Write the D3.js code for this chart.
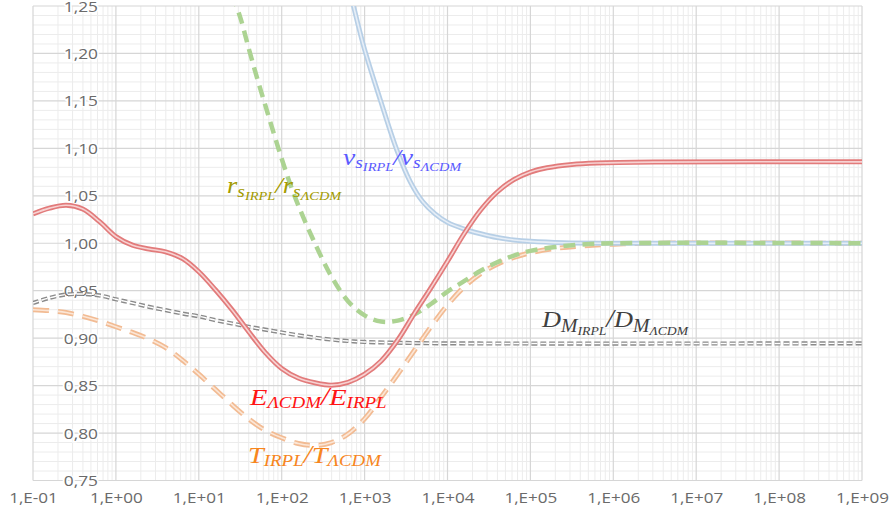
<!DOCTYPE html>
<html>
<head>
<meta charset="utf-8">
<script src="https://cdn.jsdelivr.net/npm/d3@7/dist/d3.min.js"></script>
<style>
  html, body { margin: 0; padding: 0; background: #fff; }
  svg { display: block; }
</style>
</head>
<body>
<svg id="chart" width="895" height="510"></svg>
<script>
// Abscissae are stored as exponents (log10 of the value); ordinates are ratios.
const xTickValues = [1e-1, 1e0, 1e1, 1e2, 1e3, 1e4, 1e5, 1e6, 1e7, 1e8, 1e9];
const xTickLabels = ["1,E-01", "1,E+00", "1,E+01", "1,E+02", "1,E+03", "1,E+04",
                     "1,E+05", "1,E+06", "1,E+07", "1,E+08", "1,E+09"];
const yTickValues = [0.75, 0.80, 0.85, 0.90, 0.95, 1.00, 1.05, 1.10, 1.15, 1.20, 1.25];
const yTickLabels = ["0,75", "0,80", "0,85", "0,90", "0,95", "1,00", "1,05", "1,10", "1,15", "1,20", "1,25"];

// E_LCDM / E_IRPL
const eExp   = [-1.0, -0.8, -0.6, -0.4, -0.2, 0.0, 0.2, 0.4, 0.6, 0.8, 1.0, 1.2, 1.4, 1.6, 1.8, 2.0, 2.2, 2.4, 2.6, 2.8, 3.0, 3.2, 3.4, 3.6, 3.8, 4.0, 4.2, 4.4, 4.6, 4.8, 5.0, 5.2, 5.5, 5.8, 6.5, 9.0];
const eRatio = [1.031, 1.037, 1.040, 1.036, 1.023, 1.007, 0.998, 0.994, 0.991, 0.984, 0.970, 0.951, 0.930, 0.907, 0.885, 0.868, 0.858, 0.853, 0.8505, 0.8535, 0.862, 0.876, 0.898, 0.926, 0.953, 0.981, 1.010, 1.035, 1.054, 1.067, 1.075, 1.0795, 1.083, 1.0845, 1.0855, 1.0858];

// T_IRPL / T_LCDM
const tExp   = [-1.0, -0.8, -0.6, -0.4, -0.2, 0.0, 0.2, 0.4, 0.6, 0.8, 1.0, 1.2, 1.4, 1.6, 1.8, 2.0, 2.2, 2.4, 2.6, 2.8, 3.0, 3.2, 3.4, 3.6, 3.8, 4.0, 4.2, 4.4, 4.6, 4.8, 5.0, 5.3, 5.6, 6.0, 6.5, 9.0];
const tRatio = [0.930, 0.929, 0.927, 0.923, 0.918, 0.912, 0.906, 0.899, 0.890, 0.877, 0.862, 0.846, 0.830, 0.815, 0.803, 0.795, 0.789, 0.787, 0.790, 0.799, 0.815, 0.838, 0.862, 0.887, 0.912, 0.935, 0.954, 0.968, 0.978, 0.985, 0.990, 0.9945, 0.997, 0.999, 1.000, 1.000];

// r_s IRPL / r_s LCDM
const rExp   = [1.4, 1.5, 1.6, 1.7, 1.8, 1.9, 2.0, 2.1, 2.2, 2.4, 2.6, 2.8, 3.0, 3.2, 3.4, 3.6, 3.8, 4.0, 4.2, 4.4, 4.6, 4.8, 5.0, 5.3, 5.6, 6.0, 9.0];
const rRatio = [1.262, 1.238, 1.206, 1.175, 1.146, 1.117, 1.089, 1.063, 1.040, 1.000, 0.965, 0.939, 0.924, 0.9175, 0.9185, 0.925, 0.936, 0.949, 0.960, 0.971, 0.980, 0.987, 0.992, 0.996, 0.9985, 1.000, 1.000];

// v_s IRPL / v_s LCDM
const vExp   = [2.8, 2.88, 3.0, 3.19, 3.39, 3.55, 3.7, 3.85, 4.0, 4.2, 4.4, 4.6, 4.8, 5.0, 5.4, 6.0, 9.0];
const vRatio = [1.275, 1.245, 1.204, 1.151, 1.098, 1.065, 1.044, 1.031, 1.022, 1.015, 1.010, 1.006, 1.0035, 1.002, 1.0005, 1.000, 1.000];

// D_M IRPL / D_M LCDM
const dExp   = [-1.0, -0.8, -0.6, -0.4, -0.2, 0.0, 0.2, 0.4, 0.6, 0.8, 1.0, 1.2, 1.4, 1.6, 1.8, 2.0, 2.2, 2.4, 2.6, 2.8, 3.0, 3.5, 4.0, 9.0];
const dRatio = [0.937, 0.9425, 0.946, 0.9465, 0.945, 0.941, 0.937, 0.933, 0.9295, 0.926, 0.923, 0.919, 0.9155, 0.912, 0.909, 0.906, 0.903, 0.9005, 0.8985, 0.897, 0.896, 0.895, 0.8945, 0.8945];

const plot = { left: 33, right: 862, top: 6, bottom: 480.5 };

const svg = d3.select("#chart");
const x = d3.scaleLog().domain([1e-1, 1e9]).range([plot.left, plot.right]);
const y = d3.scaleLinear().domain([0.75, 1.25]).range([plot.bottom, plot.top]);

// ---- grid ----
const grid = svg.append("g");
const minorX = [];
d3.range(-1, 9).forEach(k => { for (let m = 2; m <= 9; m++) minorX.push(m * Math.pow(10, k)); });
const minorY = d3.range(75, 126).map(v => v / 100).filter(v => Math.round(v * 100) % 5 !== 0);

grid.selectAll("line.mx").data(minorX).join("line")
  .attr("x1", d => x(d)).attr("x2", d => x(d))
  .attr("y1", plot.top).attr("y2", plot.bottom)
  .attr("stroke", "#ececec").attr("stroke-width", 1);
grid.selectAll("line.my").data(minorY).join("line")
  .attr("x1", plot.left).attr("x2", plot.right)
  .attr("y1", d => y(d)).attr("y2", d => y(d))
  .attr("stroke", "#ececec").attr("stroke-width", 1);
grid.selectAll("line.Mx").data(xTickValues).join("line")
  .attr("x1", d => x(d)).attr("x2", d => x(d))
  .attr("y1", plot.top).attr("y2", plot.bottom)
  .attr("stroke", "#d6d6d6").attr("stroke-width", 1.2);
grid.selectAll("line.My").data(yTickValues).join("line")
  .attr("x1", plot.left).attr("x2", plot.right)
  .attr("y1", d => y(d)).attr("y2", d => y(d))
  .attr("stroke", "#d6d6d6").attr("stroke-width", 1.2);

// ---- axes (labels only) ----
const tickFont = "'Open Sans', 'DejaVu Sans', sans-serif";
const xAxis = d3.axisBottom(x).tickValues(xTickValues)
  .tickFormat((d, i) => xTickLabels[i]).tickSize(0);
const gx = svg.append("g").attr("transform", `translate(0,503)`).call(xAxis);
gx.select(".domain").remove();
gx.selectAll("text")
  .attr("y", 0).attr("dy", 0).attr("x", 0)
  .attr("transform", "scale(1.22,1)")
  .attr("font-family", tickFont).attr("font-size", 14)
  .attr("fill", "#6a6a6a").attr("text-anchor", "middle");

const yAxis = d3.axisLeft(y).tickValues(yTickValues)
  .tickFormat((d, i) => yTickLabels[i]).tickSize(0);
const gy = svg.append("g").attr("transform", `translate(98,0)`).call(yAxis);
gy.select(".domain").remove();
gy.selectAll("text")
  .attr("x", 0).attr("dy", "0.36em")
  .attr("transform", "scale(1.24,1)")
  .attr("font-family", tickFont).attr("font-size", 14)
  .attr("fill", "#6a6a6a").attr("text-anchor", "end")
  .attr("stroke", "#fff").attr("stroke-width", 3).attr("paint-order", "stroke");

// ---- curves ----
svg.append("clipPath").attr("id", "plotClip").append("rect")
  .attr("x", plot.left).attr("y", plot.top)
  .attr("width", plot.right - plot.left).attr("height", plot.bottom - plot.top);

const line = d3.line()
  .x(d => x(Math.pow(10, d[0])))
  .y(d => y(d[1]))
  .curve(d3.curveCatmullRom.alpha(0.5));

const series = [
  { exp: dExp, val: dRatio, outer: "#8a8a8a", inner: "#ffffff", w: 4.2, iw: 1.4, dash: "6,3" },
  { exp: tExp, val: tRatio, outer: "#f2bb93", inner: "#fbe6d6", w: 5, iw: 1.6, dash: "16,9" },
  { exp: vExp, val: vRatio, outer: "#b7cfe6", inner: "#e6eef7", w: 5, iw: 1.6, dash: null },
  { exp: rExp, val: rRatio, outer: "#acd392", inner: null, w: 4.5, iw: 0, dash: "12,7" },
  { exp: eExp, val: eRatio, outer: "#e27b7b", inner: "#f7d2d2", w: 5, iw: 1.6, dash: null }
];

const curves = svg.append("g").attr("clip-path", "url(#plotClip)");
series.forEach(s => {
  const pts = s.exp.map((e, i) => [e, s.val[i]]);
  const p = curves.append("path").attr("d", line(pts))
    .attr("fill", "none").attr("stroke", s.outer).attr("stroke-width", s.w)
    .attr("stroke-linejoin", "round");
  if (s.dash) p.attr("stroke-dasharray", s.dash);
  if (s.inner) {
    const q = curves.append("path").attr("d", line(pts))
      .attr("fill", "none").attr("stroke", s.inner).attr("stroke-width", s.iw)
      .attr("stroke-linejoin", "round");
    if (s.dash) q.attr("stroke-dasharray", s.dash);
  }
});

// ---- formula labels ----
const mathFont = "'Liberation Serif', 'DejaVu Serif', serif";
function mathLabel(parts, left, baseline, width, color) {
  const t = svg.append("text")
    .attr("font-family", mathFont).attr("font-style", "italic")
    .attr("fill", color).attr("x", 0).attr("y", 0);
  let cur = 0;
  parts.forEach(p => {
    t.append("tspan").attr("font-size", p[1]).attr("dy", p[2] - cur).text(p[0]);
    cur = p[2];
  });
  const w = t.node().getBBox().width;
  t.attr("transform", `translate(${left},${baseline}) scale(${width / w},1)`);
}

mathLabel([["r", 23, 0], ["s", 17, 4], ["IRPL", 12.5, 7], ["/", 24, 0],
           ["r", 23, 0], ["s", 17, 4], ["ΛCDM", 12.5, 7]], 227, 193, 115, "#a39b00");
mathLabel([["v", 24, 0], ["s", 17, 3], ["IRPL", 12.5, 6], ["/", 24, 0],
           ["v", 24, 0], ["s", 17, 3], ["ΛCDM", 12.5, 6]], 343, 165, 119, "#5a5aff");
mathLabel([["D", 24, 0], ["M", 18, 5], ["IRPL", 12.5, 8], ["/", 25, 0],
           ["D", 24, 0], ["M", 18, 5], ["ΛCDM", 12.5, 8]], 542, 327, 148, "#404040");
mathLabel([["E", 24, 0], ["ΛCDM", 16, 2.5], ["/", 25, 0],
           ["E", 24, 0], ["IRPL", 16, 2.5]], 250, 405, 138, "#ff1414");
mathLabel([["T", 24, 0], ["IRPL", 16, 2.5], ["/", 25, 0],
           ["T", 24, 0], ["ΛCDM", 16, 2.5]], 248, 463, 135, "#f7861e");
</script>
</body>
</html>
